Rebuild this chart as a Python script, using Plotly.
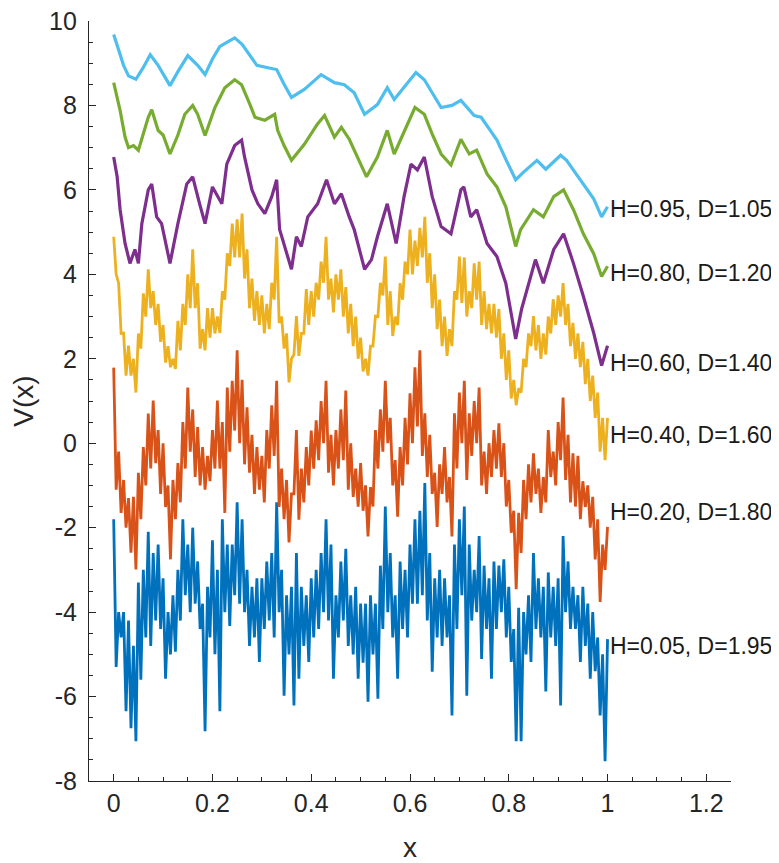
import plotly.graph_objects as go

# ---- data ----
# smoother curves: points
x_h95 = [0, 0.01, 0.02, 0.03, 0.045, 0.06, 0.074, 0.09, 0.114, 0.13, 0.15, 0.17, 0.185, 0.2, 0.215, 0.23,
         0.245, 0.26, 0.276, 0.29, 0.31, 0.33, 0.345, 0.36, 0.386, 0.42, 0.447, 0.467, 0.487, 0.508, 0.534,
         0.554, 0.568, 0.59, 0.612, 0.629, 0.645, 0.663, 0.685, 0.703, 0.73, 0.744, 0.76, 0.776, 0.795, 0.814,
         0.83, 0.857, 0.875, 0.905, 0.917, 0.945, 0.972, 0.988, 1.0]
y_h95 = [9.68, 9.3, 8.95, 8.7, 8.62, 8.9, 9.2, 8.95, 8.47, 8.8, 9.18, 8.95, 8.73, 9.1, 9.4, 9.5,
         9.6, 9.45, 9.2, 8.95, 8.9, 8.85, 8.5, 8.19, 8.38, 8.73, 8.54, 8.49, 8.3, 7.79, 8.02,
         8.42, 8.14, 8.45, 8.78, 8.61, 8.3, 7.95, 8.0, 8.12, 7.76, 7.72, 7.45, 7.18, 6.7, 6.24,
         6.42, 6.7, 6.49, 6.82, 6.7, 6.24, 5.79, 5.36, 5.6]

x_h80 = [0, 0.013, 0.023, 0.03, 0.04, 0.05, 0.07, 0.077, 0.09, 0.1, 0.114, 0.13, 0.144, 0.16, 0.17, 0.185,
         0.205, 0.225, 0.245, 0.259, 0.276, 0.286, 0.306, 0.326, 0.332, 0.345, 0.36, 0.386, 0.412, 0.427,
         0.447, 0.461, 0.477, 0.487, 0.512, 0.534, 0.554, 0.568, 0.594, 0.61, 0.629, 0.645, 0.663, 0.683,
         0.703, 0.72, 0.735, 0.756, 0.776, 0.794, 0.814, 0.824, 0.85, 0.87, 0.891, 0.911, 0.931, 0.951,
         0.972, 0.988, 1.0]
y_h80 = [8.54, 7.88, 7.25, 7.0, 7.05, 6.94, 7.72, 7.9, 7.41, 7.3, 6.85, 7.3, 7.79, 8.0, 7.79, 7.29,
         7.95, 8.42, 8.61, 8.49, 8.02, 7.72, 7.65, 7.79, 7.41, 7.05, 6.7, 7.08, 7.55, 7.76,
         7.25, 7.48, 7.2, 6.94, 6.31, 6.78, 7.41, 6.85, 7.55, 7.95, 7.79, 7.32, 6.85, 6.59,
         7.2, 6.85, 6.94, 6.38, 6.07, 5.6, 4.66, 5.06, 5.53, 5.36, 5.84, 6.0, 5.53, 4.96,
         4.49, 3.95, 4.19]

x_h60 = [0, 0.007, 0.013, 0.023, 0.033, 0.043, 0.05, 0.057, 0.07, 0.077, 0.087, 0.097, 0.114, 0.13, 0.148,
         0.16, 0.174, 0.185, 0.2, 0.219, 0.229, 0.245, 0.259, 0.265, 0.28, 0.292, 0.306, 0.32, 0.33, 0.336,
         0.36, 0.37, 0.38, 0.393, 0.413, 0.431, 0.447, 0.461, 0.477, 0.487, 0.508, 0.522, 0.534, 0.554,
         0.572, 0.588, 0.602, 0.615, 0.629, 0.645, 0.663, 0.683, 0.703, 0.709, 0.723, 0.735, 0.756, 0.776,
         0.794, 0.814, 0.826, 0.854, 0.87, 0.891, 0.911, 0.931, 0.951, 0.972, 0.988, 1.0]
y_h60 = [6.78, 6.31, 5.53, 4.73, 4.26, 4.59, 4.26, 5.2, 6.0, 6.14, 5.36, 5.2, 4.26, 5.2, 6.14,
         6.31, 5.67, 5.2, 6.07, 5.67, 6.61, 7.05, 7.18, 6.78, 6.0, 5.67, 5.44, 5.84, 6.24, 5.06,
         4.12, 4.89, 4.66, 5.36, 5.67, 6.24, 5.67, 5.91, 5.36, 5.06, 4.12, 4.35, 4.89, 5.67,
         4.73, 5.84, 6.61, 6.47, 6.78, 5.84, 5.13, 4.96, 6.0, 6.07, 5.36, 5.53, 4.73, 4.42,
         3.79, 2.47, 3.18, 4.35, 3.79, 4.59, 4.96, 4.26, 3.48, 2.61, 1.84, 2.31]

# rough curves: tops of the spikes read at x = 0, 0.01, ..., 1.00
# and bottoms of the spikes read at x = 0.005, 0.015, ..., 0.995
x_top = [round(i * 0.01, 3) for i in range(101)]
x_bot = [round(i * 0.01 + 0.005, 3) for i in range(100)]

top_h40 = [4.89, 3.79, 2.61, 2.31, 2.0, 2.6, 3.55, 4.12, 3.6, 3.3,
           2.8, 2.3, 2.0, 2.9, 3.3, 4.0, 4.59, 3.79, 2.7, 3.2,
           3.2, 3.0, 3.6, 4.5, 5.2, 5.3, 5.44, 4.59, 3.9, 3.6,
           3.5, 3.3, 3.8, 4.89, 3.0, 2.6, 2.0, 3.01, 2.6, 3.65,
           3.6, 3.8, 4.3, 4.89, 3.9, 4.0, 4.12, 3.7, 3.3, 3.0,
           2.5, 2.0, 2.3, 3.01, 3.8, 4.42, 3.6, 3.0, 3.79, 4.3,
           5.06, 4.8, 5.1, 5.36, 4.5, 4.0, 3.4, 3.0, 2.7, 3.6,
           4.42, 4.4, 3.6, 4.26, 4.3, 3.6, 3.3, 3.3, 3.18, 2.6,
           2.2, 1.5, 1.3, 2.0, 2.6, 3.01, 2.8, 2.6, 3.0, 3.41,
           3.5, 3.79, 3.3, 2.85, 2.6, 2.4, 2.0, 1.6, 1.2, 0.6, 0.6]
bot_h40 = [4.0, 2.6, 1.6, 1.6, 1.2, 2.24, 3.0, 3.2, 2.8, 2.4,
           1.91, 1.8, 1.76, 2.2, 2.8, 3.2, 3.2, 2.24, 2.2, 2.5,
           2.6, 2.61, 3.4, 4.2, 4.4, 4.4, 3.9, 3.2, 2.9, 2.8,
           2.6, 2.7, 3.4, 2.85, 2.24, 1.44, 2.1, 2.07, 2.6, 2.8,
           3.0, 3.4, 3.8, 3.4, 3.1, 3.4, 3.0, 2.6, 2.3, 2.0,
           1.7, 1.6, 2.3, 3.0, 3.5, 2.8, 2.54, 2.8, 3.4, 4.0,
           4.0, 4.2, 4.4, 3.8, 3.2, 2.7, 2.3, 2.07, 2.3, 3.4,
           3.32, 3.0, 3.2, 3.4, 2.8, 2.7, 2.6, 2.5, 2.0, 1.5,
           1.06, 0.9, 1.2, 1.8, 2.3, 2.2, 2.0, 2.1, 2.6, 2.8,
           3.0, 2.8, 2.3, 2.0, 1.8, 1.4, 1.0, 0.6, -0.2, -0.4]

top_h20 = [1.79, -0.2, -0.87, -1.3, -1.27, -0.7, -0.09, 0.7, 1.01, 0.31,
           0.0, -1.0, -0.87, -0.47, 0.5, 1.32, 0.8, 0.38, -0.09, -0.3,
           0.31, 1.01, 0.5, 1.32, 1.48, 2.2, 1.5, 0.85, 0.2, -0.09,
           -0.3, 0.31, 0.9, 1.48, -0.6, -0.87, -1.2, 0.31, -0.6, -0.09,
           0.3, 0.54, 1.0, 1.48, 0.2, 0.31, 0.8, 1.25, 0.0, -0.6,
           -0.47, -1.0, -1.04, 0.31, 0.8, 1.48, 0.6, -0.4, -0.09, 0.6,
           1.18, 1.8, 2.2, 0.71, 0.2, -0.7, -0.5, -0.09, -0.8, 0.71,
           1.2, 1.48, 0.71, 1.0, 1.32, -0.2, 0.0, 0.31, 0.47, 0.0,
           -0.87, -1.6, -1.65, -0.87, -0.5, -0.24, -0.6, -0.8, 0.31, -0.2,
           0.5, 1.08, 0.2, -0.24, -0.3, -0.9, -1.0, -1.27, -1.8, -2.4, -1.98]
bot_h20 = [-1.1, -1.65, -2.0, -2.59, -2.99, -1.8, -1.0, -0.6, -0.47, -1.2,
           -1.51, -2.75, -1.8, -1.4, -0.6, -0.2, -0.8, -1.0, -1.1, -0.9,
           -0.6, -0.6, -1.65, -0.2, 0.3, 0.0, -0.5, -0.7, -1.2, -1.1,
           -1.4, -0.6, -0.3, -1.51, -1.8, -2.35, -1.2, -1.81, -1.4, -1.0,
           -0.6, -0.4, 0.0, -0.7, -1.0, -0.6, -0.4, -1.1, -1.27, -1.5,
           -1.6, -2.21, -1.5, -0.6, -0.2, 0.0, -1.0, -1.74, -1.0, -0.5,
           0.0, 0.4, -0.3, -0.8, -1.2, -1.98, -1.2, -1.4, -2.21, -0.6,
           0.0, -0.87, -0.3, 0.0, -1.0, -1.2, -0.8, -0.6, -0.8, -1.5,
           -2.12, -3.46, -2.6, -1.8, -1.4, -1.2, -1.65, -1.4, -0.8, -1.0,
           -0.4, -0.87, -1.4, -1.5, -1.8, -1.51, -2.0, -2.75, -3.76, -3.0]

top_h05 = [-1.8, -4.0, -4.0, -4.2, -4.8, -3.3, -3.0, -2.1, -2.6, -2.4,
           -3.2, -4.0, -3.6, -3.0, -1.8, -2.4, -2.0, -2.8, -3.8, -3.4,
           -2.3, -3.0, -1.8, -2.4, -2.4, -1.4, -1.8, -3.0, -3.4, -3.2,
           -3.2, -2.8, -2.6, -1.4, -3.0, -3.6, -3.4, -2.6, -3.4, -3.6,
           -3.2, -3.0, -2.6, -1.8, -2.4, -3.6, -2.8, -2.5, -3.6, -3.4,
           -3.8, -3.8, -3.6, -3.8, -2.9, -1.5, -2.6, -3.6, -2.8, -3.0,
           -2.4, -1.8, -1.6, -0.94, -2.6, -3.2, -3.0, -3.2, -3.6, -2.4,
           -1.8, -1.5, -2.4, -3.0, -2.2, -2.9, -3.2, -2.8, -2.9, -2.75,
           -3.4, -4.4, -3.9, -4.0, -3.6, -2.6, -3.2, -3.4, -3.06, -3.4,
           -3.2, -2.2, -2.8, -3.4, -3.6, -3.4, -3.8, -4.0, -4.6, -5.0, -4.64]
bot_h05 = [-5.3, -4.6, -6.35, -6.75, -7.06, -5.6, -4.6, -4.8, -4.2, -4.4,
           -5.58, -5.0, -4.94, -4.2, -3.6, -4.0, -3.8, -4.4, -6.82, -4.6,
           -5.0, -6.35, -4.0, -4.33, -3.6, -3.8, -4.0, -4.8, -4.6, -5.18,
           -4.4, -4.2, -4.6, -4.0, -5.98, -5.0, -6.21, -5.58, -4.8, -5.18,
           -4.6, -4.4, -4.0, -4.2, -5.58, -4.6, -4.2, -4.8, -5.0, -5.58,
           -5.2, -6.12, -5.0, -6.05, -4.4, -4.0, -4.6, -5.58, -4.4, -4.6,
           -3.8, -3.8, -3.6, -4.2, -5.41, -4.6, -4.8, -4.6, -6.45, -4.4,
           -3.6, -5.98, -4.2, -4.0, -5.11, -4.4, -5.58, -4.4, -4.0, -4.6,
           -5.18, -7.06, -7.06, -5.0, -5.18, -4.4, -4.6, -5.88, -4.6, -4.8,
           -6.21, -4.0, -4.4, -4.4, -5.18, -4.8, -5.58, -5.4, -6.45, -7.53]


def spikes(top, bot):
    xs, ys = [], []
    for i, t in enumerate(top):
        xs.append(x_top[i]); ys.append(t)
        if i < len(bot):
            xs.append(x_bot[i]); ys.append(bot[i])
    return xs, ys


x_h40, y_h40 = spikes(top_h40, bot_h40)
x_h20, y_h20 = spikes(top_h20, bot_h20)
x_h05, y_h05 = spikes(top_h05, bot_h05)

series = [
    ("H=0.05, D=1.95", x_h05, y_h05, "#0072BD", -4.8, 2.8),
    ("H=0.20, D=1.80", x_h20, y_h20, "#D95319", -1.62, 2.8),
    ("H=0.40, D=1.60", x_h40, y_h40, "#EDB120", 0.19, 2.8),
    ("H=0.60, D=1.40", x_h60, y_h60, "#7E2F8E", 1.9, 3.2),
    ("H=0.80, D=1.20", x_h80, y_h80, "#77AC30", 4.02, 3.2),
    ("H=0.95, D=1.05", x_h95, y_h95, "#4DBEEE", 5.55, 3.2),
]

FONT = "Liberation Sans, Arial, Helvetica, sans-serif"
fig = go.Figure()
for name, xs, ys, col, ly, lw in series:
    fig.add_trace(go.Scatter(x=xs, y=ys, mode="lines", name=name,
                             line=dict(color=col, width=lw), showlegend=False))
    fig.add_annotation(x=1.0, y=ly, text=name, showarrow=False, xanchor="left",
                       yanchor="middle", xshift=0,
                       font=dict(family=FONT, size=23, color="#1a1a1a"))

axis_common = dict(showline=True, linecolor="#262626", linewidth=1.2, ticks="inside",
                   tickcolor="#262626", ticklen=7, tickwidth=1.2, showgrid=False, zeroline=False,
                   automargin=False, ticklabeloverflow="allow",
                   tickfont=dict(family=FONT, size=25, color="#262626"))
y_ticks = [-8, -6, -4, -2, 0, 2, 4, 6, 8, 10]
# the page body adds an 8 px margin, so the figure is 8 px smaller than the window
fig.update_layout(
    width=771, height=855,
    margin=dict(l=81, r=48, t=13, b=82),
    plot_bgcolor="white", paper_bgcolor="white",
    xaxis=dict(range=[-0.05, 1.25], tickvals=[0, 0.2, 0.4, 0.6, 0.8, 1, 1.2],
               ticktext=["0", "0.2", "0.4", "0.6", "0.8", "1", "1.2"],
               minor=dict(ticks="inside", dtick=0.05, ticklen=4, tickcolor="#262626"),
               title=dict(text="x", font=dict(family=FONT, size=28, color="#262626"), standoff=24),
               **axis_common),
    yaxis=dict(range=[-8, 10], tickvals=y_ticks, ticktext=[str(v) for v in y_ticks],
               ticklabelstandoff=6,
               minor=dict(ticks="inside", dtick=0.5, ticklen=4, tickcolor="#262626"),
               title=dict(text="V(x)", font=dict(family=FONT, size=28, color="#262626"), standoff=16),
               **axis_common),
)
fig.write_html("out.html")
